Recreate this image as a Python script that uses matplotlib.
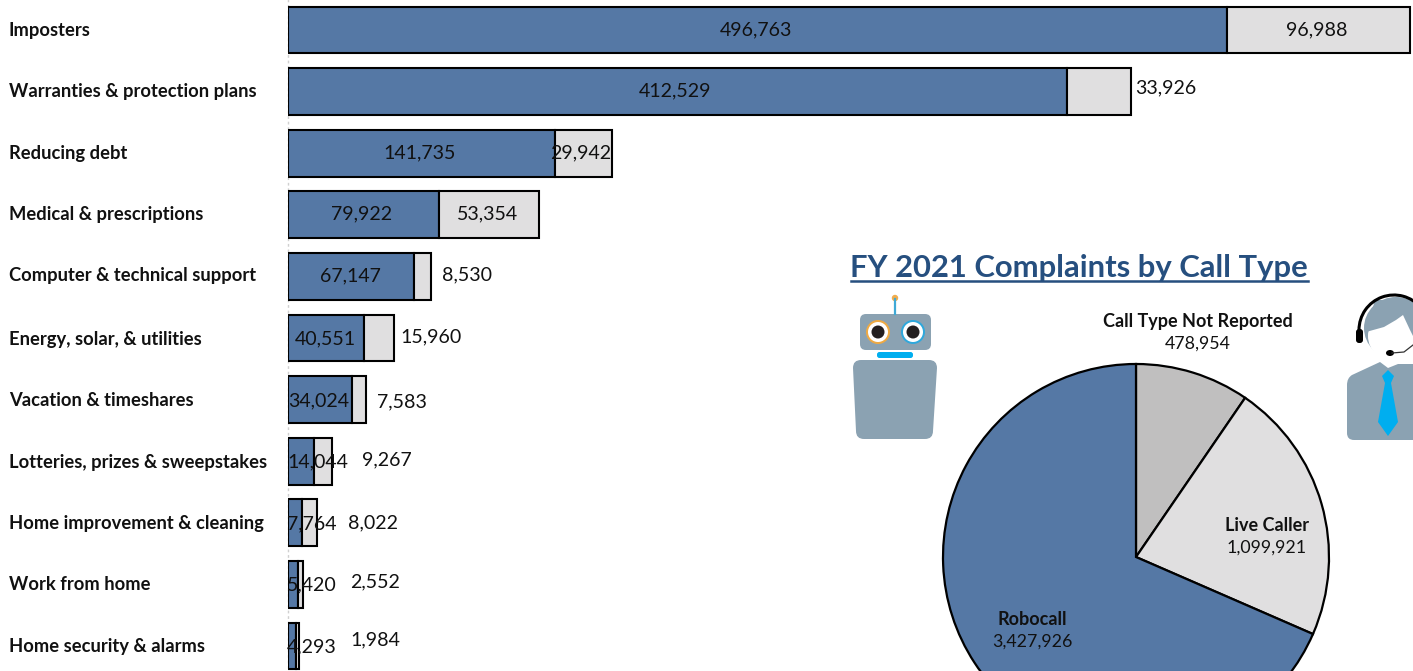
import matplotlib
matplotlib.use("Agg")
import matplotlib.pyplot as plt
from matplotlib.patches import FancyBboxPatch, Circle, Polygon, Ellipse, Arc, PathPatch
from matplotlib.path import Path

plt.rcParams['font.family'] = ['Lato', 'DejaVu Sans']

categories = ["Imposters", "Warranties & protection plans", "Reducing debt", "Medical & prescriptions",
              "Computer & technical support", "Energy, solar, & utilities", "Vacation & timeshares",
              "Lotteries, prizes & sweepstakes", "Home improvement & cleaning", "Work from home",
              "Home security & alarms"]
robocall_values = [496763, 412529, 141735, 79922, 67147, 40551, 34024, 14044, 7764, 5420, 4293]
live_values = [96988, 33926, 29942, 53354, 8530, 15960, 7583, 9267, 8022, 2552, 1984]
pie_labels = ["Call Type Not Reported", "Live Caller", "Robocall"]
pie_values = [478954, 1099921, 3427926]

BLUE = "#5578a5"; GREY = "#e0dfe0"; PIEGREY = "#c0bfbf"; SLATE = "#8ba2b2"; CYAN = "#00aeef"; NAVY = "#264f7f"
W, H = 1413, 671
fig = plt.figure(figsize=(W / 100, H / 100), dpi=100)

# bars
x0 = 287.5
px_per_unit = 939 / 496763
y_first, y_step = 30, 61.6
ax = fig.add_axes([x0 / W, 0, 1 - x0 / W, 1])
ax.set_xlim(0, (W - x0) / px_per_unit)
ax.set_ylim((H - y_first) / y_step, -y_first / y_step)
ypos = list(range(len(categories)))
ax.barh(ypos, robocall_values, height=0.76, color=BLUE, edgecolor="black", linewidth=1.5, zorder=2)
ax.barh(ypos, live_values, left=robocall_values, height=0.76, color=GREY, edgecolor="black", linewidth=1.5, zorder=2)
ax.axis("off")
ax.plot([0, 0], [-0.5, 10.5], color="#d0d0d0", lw=1, ls=(0, (2, 2)), zorder=1, clip_on=False)

# pie
cx, cy, r = 1136, 557, 193
pie_ax = fig.add_axes([(cx - r) / W, (H - cy - r) / H, 2 * r / W, 2 * r / H], zorder=2)
pie_ax.pie(pie_values, colors=[PIEGREY, GREY, BLUE], startangle=90, counterclock=False, radius=1,
           wedgeprops=dict(edgecolor="black", linewidth=1.6))
pie_ax.set_xlim(-1, 1); pie_ax.set_ylim(-1, 1)

# pixel overlay
pix = fig.add_axes([0, 0, 1, 1], facecolor="none", zorder=3)
pix.set_xlim(0, W); pix.set_ylim(H, 0); pix.axis("off")

label_y = [30, 91, 153, 214, 275, 339, 400, 462, 523, 584, 646]
for name, y in zip(categories, label_y):
    pix.text(9, y + 0.5, name, ha="left", va="center", fontsize=13.2, fontweight="bold", color="#111111")

blue_xy = [(756, 29), (675, 90), (420, 152), (362, 213), (350, 275), (325, 338), (319, 400), (318, 461), (312, 523), (312, 584), (312, 646)]
grey_xy = [(1317, 29), (1166, 87), (581, 152), (488, 213), (467, 274), (431, 336), (402, 401), (387, 459), (373, 522), (375, 581), (375, 639)]
for v, (x, y) in zip(robocall_values, blue_xy):
    pix.text(x, y + 1, f"{v:,}", ha="center", va="center", fontsize=14.1, color="#111111", zorder=5)
for v, (x, y) in zip(live_values, grey_xy):
    pix.text(x, y + 1, f"{v:,}", ha="center", va="center", fontsize=14.1, color="#111111", zorder=5)

# title
pix.text(1079, 268.5, "FY 2021 Complaints by Call Type", ha="center", va="center", fontsize=22.3,
         fontweight="bold", color=NAVY)
pix.plot([851, 1308], [281, 281], color=NAVY, lw=1.8)

for lab, val, (x, y) in zip(pie_labels, pie_values, [(1198, 321), (1267, 525), (1032, 619)]):
    pix.text(x, y + 0.5, lab, ha="center", va="center", fontsize=13, fontweight="bold", color="#111111", zorder=6)
    pix.text(x, y + 23, f"{val:,}", ha="center", va="center", fontsize=12.8, color="#111111", zorder=6)

# robot icon
pix.plot([895, 895], [299, 314], color="#3fa9d6", lw=1.6)
pix.add_patch(Circle((895, 298), 2.5, color="#f0ad4e"))
pix.add_patch(FancyBboxPatch((860, 314), 71, 36, boxstyle="round,pad=0,rounding_size=6", lw=0, fc=SLATE))
for ex, ec in [(878, "#eeaa44"), (913, "#2fa8dc")]:
    pix.add_patch(Circle((ex, 332), 12, fc=ec, lw=0))
    pix.add_patch(Circle((ex, 332), 10, fc="white", lw=0))
    pix.add_patch(Circle((ex, 332), 6.5, fc="#231f20", lw=0))
pix.add_patch(FancyBboxPatch((877, 352), 36, 6, boxstyle="round,pad=0,rounding_size=2.5", lw=0, fc=CYAN))
body = Path([(861, 360), (929, 360), (937, 360), (937, 368), (933, 431), (933, 439), (925, 439), (864, 439),
             (856, 439), (856, 431), (853, 368), (853, 360), (861, 360)],
            [Path.MOVETO, Path.LINETO, Path.CURVE3, Path.CURVE3, Path.LINETO, Path.CURVE3, Path.CURVE3,
             Path.LINETO, Path.CURVE3, Path.CURVE3, Path.LINETO, Path.CURVE3, Path.CURVE3])
pix.add_patch(PathPatch(body, fc=SLATE, lw=0))

# agent icon
torso = Path([(1352, 375), (1380, 362), (1388, 368), (1398, 364), (1413, 364), (1413, 440), (1354, 440),
              (1347, 440), (1347, 433), (1347, 385), (1347, 378), (1352, 375)],
             [Path.MOVETO, Path.LINETO, Path.LINETO, Path.LINETO, Path.LINETO, Path.LINETO, Path.LINETO,
              Path.CURVE3, Path.CURVE3, Path.LINETO, Path.CURVE3, Path.CURVE3])
pix.add_patch(PathPatch(torso, fc=SLATE, lw=0))
pix.add_patch(Ellipse((1396, 328), 64, 62, fc=SLATE, lw=0))
pix.add_patch(Ellipse((1398, 336), 60, 54, fc="white", lw=0))
pix.add_patch(Polygon([(1366, 332), (1384, 327), (1396, 320), (1403, 315), (1410, 330), (1413, 336), (1413, 300), (1375, 300)], fc=SLATE, lw=0))
pix.add_patch(Arc((1394, 330), 70, 70, theta1=180, theta2=320, color="black", lw=2.2))
pix.add_patch(FancyBboxPatch((1356, 329), 7, 14, boxstyle="round,pad=0,rounding_size=3", fc="black", lw=0))
pix.add_patch(Ellipse((1390, 353), 8, 6, fc="black", lw=0))
pix.plot([1392, 1404, 1413], [353, 352, 345], color="#333333", lw=0.9)
pix.add_patch(Polygon([(1388, 370), (1394, 376), (1391, 383), (1398, 422), (1388, 436), (1378, 422), (1385, 383), (1382, 376)], fc=CYAN, lw=0))

fig.savefig("out.png", dpi=100)
